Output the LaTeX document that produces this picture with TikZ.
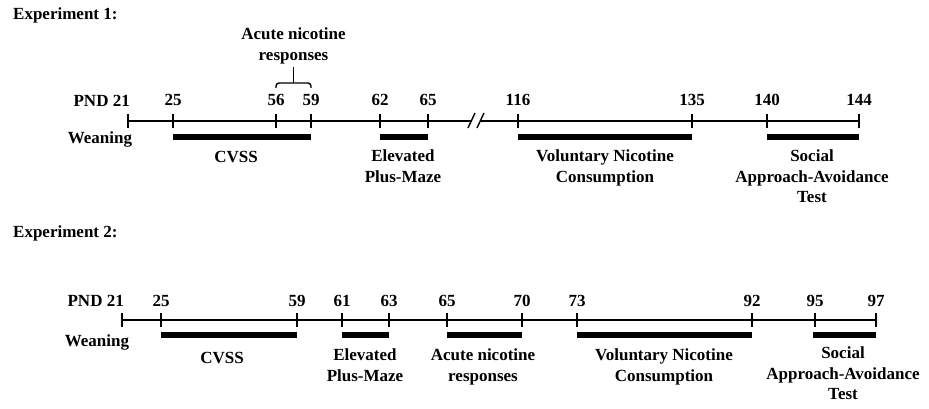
\documentclass[tikz,border=0pt]{standalone}
\usepackage{fontspec}
\setmainfont{Liberation Serif}
\begin{document}
\begin{tikzpicture}[x=1pt,y=-1pt,
  axis/.style={line width=1.4pt},
  tickmark/.style={line width=1.4pt},
  bar/.style={line width=6pt},
  brace/.style={line width=1.4pt, rounded corners=3pt},
  lbl/.style={font=\bfseries\fontsize{17}{20.5}\selectfont, inner sep=0pt, align=center},
]
\useasboundingbox[fill=white] (0,0) rectangle (929,409);

% ---------------- Experiment 1 ----------------
\node[lbl, anchor=base west] (e1) at (13,20) {Experiment 1:};

\foreach \n/\x in {21/128,25/173,56/276,59/311,62/380,65/428,116/518,135/692,140/767,144/859}{
  \coordinate (a\n) at (\x,121);
  \draw[tickmark] ([yshift=7pt]a\n) -- ([yshift=-7pt]a\n);
}
\foreach \n in {25,56,59,62,65,116,135,140,144}{
  \node[lbl, anchor=base] (na\n) at ([yshift=15pt]a\n) {\n};
}
\node[lbl, anchor=base east] (apnd) at ([xshift=2pt,yshift=14pt]a21) {PND 21};
\node[lbl, anchor=base] (awean) at (100,143) {Weaning};

\coordinate (abrkL) at (472,121);
\coordinate (abrkR) at (481,121);
\draw[axis] (a21) -- (abrkL);
\draw[axis] (abrkR) -- (a144);
\draw[axis] ([shift={(-4pt,-7pt)}]abrkL) -- ([shift={(3pt,8pt)}]abrkL);
\draw[axis] ([shift={(-4pt,-7pt)}]abrkR) -- ([shift={(3pt,8pt)}]abrkR);

\draw[bar] ([yshift=-16pt]a25) -- ([yshift=-16pt]a59);
\draw[bar] ([yshift=-16pt]a62) -- ([yshift=-16pt]a65);
\draw[bar] ([yshift=-16pt]a116) -- ([yshift=-16pt]a135);
\draw[bar] ([yshift=-16pt]a140) -- ([yshift=-16pt]a144);

\node[lbl, anchor=north] (acvss) at (236,151) {CVSS};
\node[lbl, anchor=north] (aepm) at (403,150) {Elevated\\Plus-Maze};
\node[lbl, anchor=north] (avnc) at (605,150) {Voluntary Nicotine\\Consumption};
\node[lbl, anchor=north] (asaat) at (812,150) {Social\\Approach-Avoidance\\Test};

\coordinate (brL) at (276,88);
\coordinate (brR) at (311,88);
\coordinate (brM) at (293.5,83);
\draw[brace] (brL) -- (276,83) -- (311,83) -- (brR);
\draw[line width=1.4pt] (brM) -- ++(0,-16);
\node[lbl, anchor=north] (aacute) at (293.5,28) {Acute nicotine\\responses};

% ---------------- Experiment 2 ----------------
\node[lbl, anchor=base west] (e2) at (13,237) {Experiment 2:};

\foreach \n/\x in {21/122,25/161,59/297,61/342,63/389,65/447,70/522,73/577,92/752,95/815,97/876}{
  \coordinate (b\n) at (\x,320);
  \draw[tickmark] ([yshift=7pt]b\n) -- ([yshift=-7pt]b\n);
}
\foreach \n in {25,59,61,63,65,70,73,92,95,97}{
  \node[lbl, anchor=base] (nb\n) at ([yshift=14pt]b\n) {\n};
}
\node[lbl, anchor=base east] (bpnd) at ([xshift=2pt,yshift=14pt]b21) {PND 21};
\node[lbl, anchor=base] (bwean) at (97,346) {Weaning};

\draw[axis] (b21) -- (b97);

\draw[bar] ([yshift=-15pt]b25) -- ([yshift=-15pt]b59);
\draw[bar] ([yshift=-15pt]b61) -- ([yshift=-15pt]b63);
\draw[bar] ([yshift=-15pt]b65) -- ([yshift=-15pt]b70);
\draw[bar] ([yshift=-15pt]b73) -- ([yshift=-15pt]b92);
\draw[bar] ([shift={(-2pt,-15pt)}]b95) -- ([yshift=-15pt]b97);

\node[lbl, anchor=north] (bcvss) at (222,352) {CVSS};
\node[lbl, anchor=north] (bepm) at (365,349) {Elevated\\Plus-Maze};
\node[lbl, anchor=north] (bacute) at (483,349) {Acute nicotine\\responses};
\node[lbl, anchor=north] (bvnc) at (664,349) {Voluntary Nicotine\\Consumption};
\node[lbl, anchor=north] (bsaat) at (843,347) {Social\\Approach-Avoidance\\Test};
\end{tikzpicture}
\end{document}
